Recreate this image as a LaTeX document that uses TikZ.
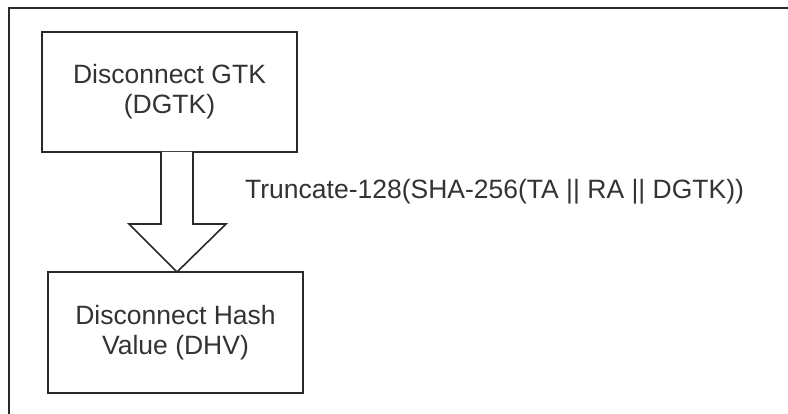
\documentclass[tikz,border=0pt]{standalone}
\usepackage{fontspec}
\setmainfont{Liberation Sans}
\definecolor{linec}{HTML}{2A2A2A}
\definecolor{textc}{HTML}{333333}
\begin{document}
\begin{tikzpicture}[x=1pt,y=-1pt,
  box/.style={draw=linec,line width=2pt,minimum width=255pt,inner sep=0pt,
    align=center,text=textc,font=\fontsize{26.5}{30}\selectfont},
  frameline/.style={draw=linec,line width=2pt},
  arrowline/.style={draw=linec,line width=1.6pt,fill=white,line join=miter},
  lbl/.style={text=textc,font=\fontsize{26.5}{30}\selectfont,inner sep=0pt}]
\useasboundingbox (0,0) rectangle (788,414);
\draw[frameline] (9,414) -- (9,8) -- (788,8);
\node[box,minimum height=120pt] (gtk) at (169.5,92) {Disconnect GTK\\(DGTK)};
\node[box,minimum height=121pt] (dhv) at (175.5,332.5) {Disconnect Hash\\[0pt]Value (DHV)};
\coordinate (tip) at (177,272);
\draw[arrowline] (161,152) -- (161,224) -- (129,224) -- (tip) -- (226,224) -- (193,224) -- (193,152);
\node[lbl,anchor=west] (fn) at (245,192) {Truncate-128(SHA-256(TA || RA || DGTK))};
\end{tikzpicture}
\end{document}
